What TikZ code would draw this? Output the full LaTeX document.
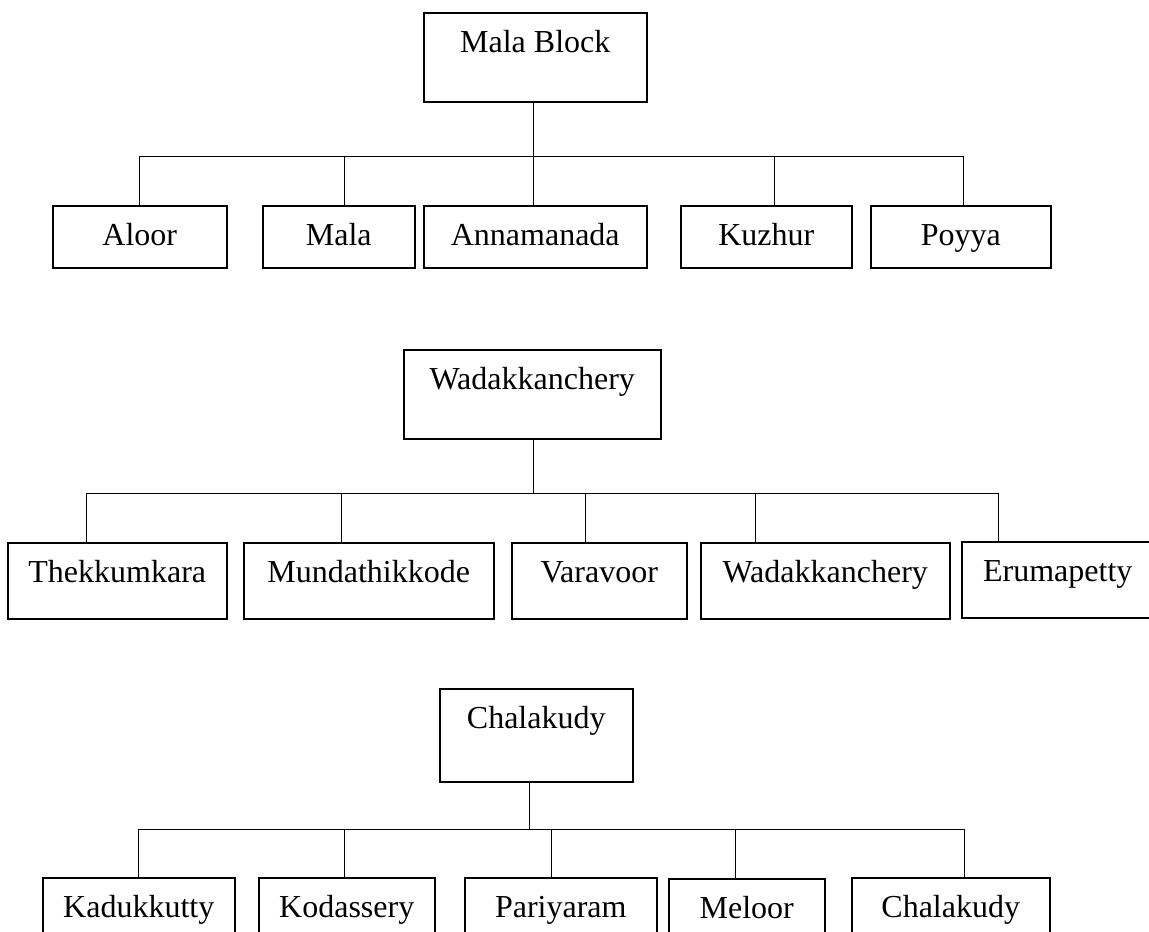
\documentclass[tikz,border=0pt]{standalone}
\usepackage{fontspec}
\setmainfont{Liberation Serif}
\begin{document}
\begin{tikzpicture}[x=1pt,y=-1pt,
  box/.style={draw, line width=1.5pt, inner sep=0pt, anchor=north west,
    text height=40pt, font=\fontsize{32}{38}\selectfont},
  pbox/.style={box, text depth=49pt},
  link/.style={line width=0.9pt}]
\useasboundingbox (0,0) rectangle (1149,932);
\clip (0,0) rectangle (1149,932);
% ---------- Section 1 ----------
\node[pbox, minimum width=223pt] (MB) at (423,12) {Mala Block};
\node[box, text depth=22pt, minimum width=174pt] (A1) at (52,205) {Aloor};
\node[box, text depth=22pt, minimum width=152pt] (A2) at (262,205) {Mala};
\node[box, text depth=22pt, minimum width=223pt] (A3) at (423,205) {Annamanada};
\node[box, text depth=22pt, minimum width=171pt] (A4) at (680,205) {Kuzhur};
\node[box, text depth=22pt, minimum width=180pt] (A5) at (870,205) {Poyya};
\coordinate (s1) at (533,156);
\coordinate (b11) at (139,156);
\coordinate (b12) at (344,156);
\coordinate (b13) at (533,156);
\coordinate (b14) at (774,156);
\coordinate (b15) at (963,156);
\draw[link] (s1 |- MB.south) -- (s1);
\draw[link] (b11) -- (b15);
\draw[link] (b11) -- (b11 |- A1.north);
\draw[link] (b12) -- (b12 |- A2.north);
\draw[link] (b13) -- (b13 |- A3.north);
\draw[link] (b14) -- (b14 |- A4.north);
\draw[link] (b15) -- (b15 |- A5.north);
% ---------- Section 2 ----------
\node[pbox, minimum width=257pt] (WK) at (403,349) {Wadakkanchery};
\node[box, text depth=36pt, minimum width=219pt] (B1) at (7,542) {Thekkumkara};
\node[box, text depth=36pt, minimum width=250pt] (B2) at (243,542) {Mundathikkode};
\node[box, text depth=36pt, minimum width=175pt] (B3) at (511,542) {Varavoor};
\node[box, text depth=36pt, minimum width=249pt] (B4) at (700,542) {Wadakkanchery};
\node[box, text depth=36pt, minimum width=192pt] (B5) at (961,541) {Erumapetty};
\coordinate (s2) at (533,493);
\coordinate (b21) at (86,493);
\coordinate (b22) at (341,493);
\coordinate (b23) at (585,493);
\coordinate (b24) at (755,493);
\coordinate (b25) at (998,493);
\draw[link] (s2 |- WK.south) -- (s2);
\draw[link] (b21) -- (b25);
\draw[link] (b21) -- (b21 |- B1.north);
\draw[link] (b22) -- (b22 |- B2.north);
\draw[link] (b23) -- (b23 |- B3.north);
\draw[link] (b24) -- (b24 |- B4.north);
\draw[link] (b25) -- (b25 |- B5.north);
% ---------- Section 3 ----------
\node[box, text depth=53pt, minimum width=193pt] (CH) at (439,688) {Chalakudy};
\node[box, text depth=35pt, minimum width=192pt] (C1) at (42,877) {Kadukkutty};
\node[box, text depth=35pt, minimum width=176pt] (C2) at (258,877) {Kodassery};
\node[box, text depth=35pt, minimum width=192pt] (C3) at (464,877) {Pariyaram};
\node[box, text depth=35pt, minimum width=156pt] (C4) at (668,878) {Meloor};
\node[box, text depth=35pt, minimum width=198pt] (C5) at (851,877) {Chalakudy};
\coordinate (s3) at (529,829);
\coordinate (b31) at (138,829);
\coordinate (b32) at (344,829);
\coordinate (b33) at (551,829);
\coordinate (b34) at (735,829);
\coordinate (b35) at (964,829);
\draw[link] (s3 |- CH.south) -- (s3);
\draw[link] (b31) -- (b35);
\draw[link] (b31) -- (b31 |- C1.north);
\draw[link] (b32) -- (b32 |- C2.north);
\draw[link] (b33) -- (b33 |- C3.north);
\draw[link] (b34) -- (b34 |- C4.north);
\draw[link] (b35) -- (b35 |- C5.north);
\end{tikzpicture}
\end{document}
